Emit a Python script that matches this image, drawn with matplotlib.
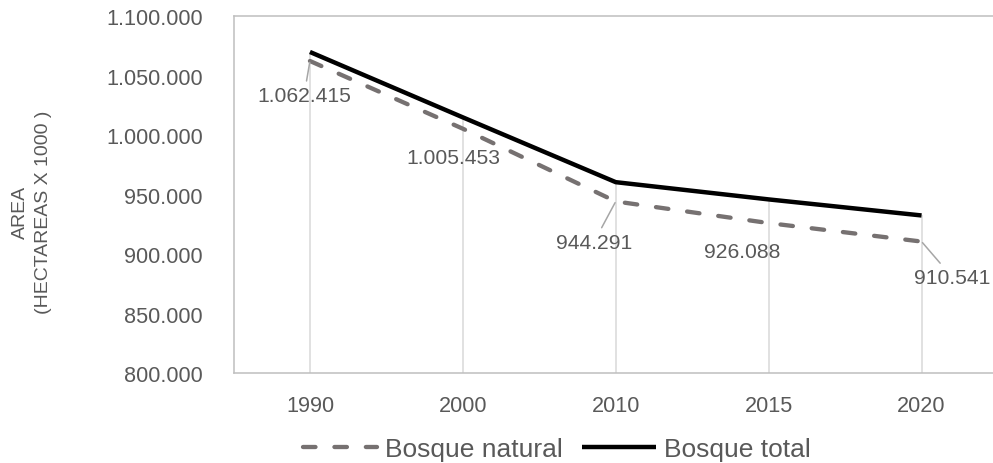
import matplotlib
matplotlib.use("Agg")
import matplotlib.pyplot as plt
from matplotlib.ticker import FuncFormatter, MultipleLocator

plt.rcParams['font.family'] = ['Liberation Sans', 'DejaVu Sans']

years = ["1990", "2000", "2010", "2015", "2020"]
bosque_natural = [1062415, 1005453, 944291, 926088, 910541]
bosque_total = [1070000, 1015000, 960500, 946000, 932500]

# label offsets in pixels (dx, dy) and whether to draw a leader line
label_offsets = [(-6, -35), (-9, -29), (-22, -41), (-26, -28), (31, -36)]
label_leaders = [True, False, True, False, True]

TXT = '#595959'
W, H = 993, 464
fig = plt.figure(figsize=(W / 100, H / 100), dpi=100)
ax = fig.add_axes([233.5 / W, 1 - 374 / H, (998 - 233.5) / W, (374 - 17.3) / H])

x = list(range(len(years)))

def fmt(v, pos=None):
    return f"{v:,.0f}".replace(',', '.')

# drop lines
tops = [max(a, b) for a, b in zip(bosque_natural, bosque_total)]
ax.vlines(x, 800000, tops, colors='#D9D9D9', linewidth=1.1, zorder=1)

ax.plot(x, bosque_natural, color='#767171', linewidth=3.1, linestyle=(0, (2.9, 4.4)),
        dash_capstyle='round', label='Bosque natural', zorder=3)
ax.plot(x, bosque_total, color='black', linewidth=3.2, label='Bosque total',
        solid_capstyle='butt', zorder=4)

for i, v in enumerate(bosque_natural):
    dx, dy = label_offsets[i]
    ap = dict(arrowstyle='-', color='#A6A6A6', lw=1.1, shrinkA=2, shrinkB=1) if label_leaders[i] else None
    ax.annotate(fmt(v), xy=(i, v), xytext=(dx, dy), textcoords='offset pixels',
                ha='center', va='center', fontsize=15.2, color=TXT,
                arrowprops=ap, zorder=5)

ax.set_xlim(-0.5, len(years) - 0.5)
ax.set_ylim(800000, 1100000)
ax.yaxis.set_major_locator(MultipleLocator(50000))
ax.yaxis.set_major_formatter(FuncFormatter(fmt))
ax.set_xticks(x)
ax.set_xticklabels(years)
ax.tick_params(axis='both', length=0, labelsize=15.6, labelcolor=TXT)
ax.tick_params(axis='x', pad=15.5)
ax.tick_params(axis='y', pad=22)
for s in ax.spines.values():
    s.set_color('#BFBFBF')
    s.set_linewidth(1.1)

fig.text(32 / W, 1 - 212 / H, "AREA\n(HECTAREAS X 1000 )", rotation=90,
         ha='center', va='center', multialignment='center', fontsize=14,
         color=TXT, linespacing=1.5)

leg = fig.legend(loc='center', bbox_to_anchor=(557 / W, 1 - 450 / H), ncol=2,
                 frameon=False, fontsize=19, handlelength=2.8, handletextpad=0.3,
                 columnspacing=0.72, borderpad=0, labelcolor=TXT)

fig.savefig('out.png', dpi=100)
